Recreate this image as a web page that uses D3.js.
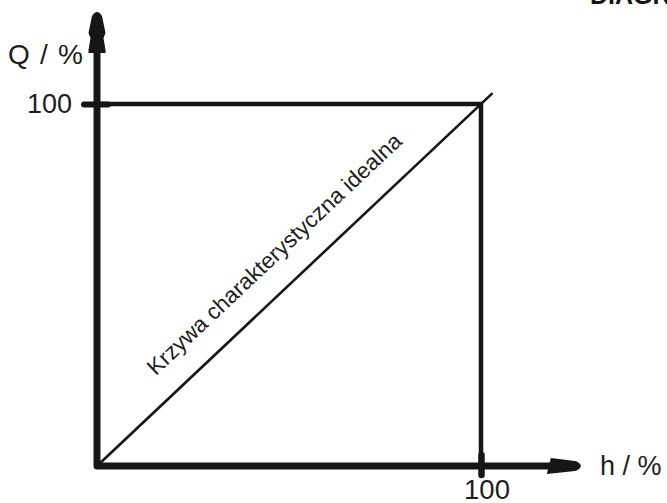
<!DOCTYPE html>
<html>
<head>
<meta charset="utf-8">
<script src="https://cdn.jsdelivr.net/npm/d3@7"></script>
<style>
  html, body { margin: 0; padding: 0; background: #fff; }
  svg { display: block; font-family: "Liberation Sans", Arial, sans-serif; }
</style>
</head>
<body>
<svg id="chart" width="667" height="503"></svg>
<script>
// ---- data ----
const xDomain = [0, 100];           // h / %
const yDomain = [0, 100];           // Q / %
const axisMax = 126;                // axes run a bit past 100 to the arrowheads
const xTicks = [100];
const yTicks = [100];
const idealCurveH = [0, 103];       // ideal characteristic (h values)
const idealCurveQ = [0, 103];       // ideal characteristic (Q values)
const squareH = [0, 100, 100];      // frame at 100 %
const squareQ = [100, 100, 0];
const xAxisLabel = "h / %";
const yAxisLabel = "Q / %";
const curveLabel = "Krzywa charakterystyczna idealna";
const titleText = "DIAGRAM";

// ---- drawing ----
const ink = "#161616";
const svg = d3.select("#chart");
const x = d3.scaleLinear().domain(xDomain).range([97, 481]);
const y = d3.scaleLinear().domain(yDomain).range([466, 104]);

// cut-off title at top right
svg.append("text")
  .attr("x", 590).attr("y", 4)
  .attr("font-size", 25).attr("font-weight", "bold")
  .attr("fill", ink)
  .text(titleText);

// square frame at 100 %
const frame = squareH.map((h, i) => [x(h), y(squareQ[i])]);
svg.append("path")
  .attr("d", d3.line()(frame))
  .attr("fill", "none").attr("stroke", ink)
  .attr("stroke-width", 4.5).attr("stroke-linejoin", "miter");

// ideal curve (diagonal)
const ideal = idealCurveH.map((h, i) => [x(h), y(idealCurveQ[i])]);
svg.append("path")
  .attr("d", d3.line()(ideal))
  .attr("fill", "none").attr("stroke", ink)
  .attr("stroke-width", 2.6);

// axes lines (L shape)
const yTipY = y(axisMax), xTipX = x(axisMax);
svg.append("path")
  .attr("d", d3.line()([[x(0), yTipY + 40], [x(0), y(0)], [xTipX - 30, y(0)]]))
  .attr("fill", "none").attr("stroke", ink)
  .attr("stroke-width", 7).attr("stroke-linejoin", "round");

// y arrowhead (pointing up)
svg.append("path")
  .attr("transform", `translate(${x(0)},${yTipY})`)
  .attr("d", "M-5,6 Q0,-2 5,6 L8.5,23 L6.5,28 L8.5,40 L8.5,43 L-8.5,43 L-8.5,40 L-6.5,28 L-8.5,23 Z")
  .attr("fill", ink);

// x arrowhead (pointing right)
svg.append("path")
  .attr("transform", `translate(${xTipX},${y(0)})`)
  .attr("d", "M0,0 C0,-2 -3,-4.5 -6,-5 L-30,-8 L-34,8 L-6,5 C-3,4.5 0,2 0,0 Z")
  .attr("fill", ink);

// y axis ticks + labels
const yAxisG = svg.append("g")
  .attr("transform", `translate(${x(0)},0)`)
  .call(d3.axisLeft(y).tickValues(yTicks).tickSize(13).tickPadding(12).tickFormat(d3.format("d")));
yAxisG.select(".domain").remove();
yAxisG.selectAll(".tick line")
  .attr("x1", -13).attr("x2", 11)
  .attr("stroke", ink).attr("stroke-width", 6).attr("stroke-linecap", "round");
yAxisG.selectAll(".tick text")
  .attr("x", -25)
  .attr("font-size", 27).attr("font-family", "Liberation Sans, Arial, sans-serif")
  .attr("fill", "#1e1e1e");

// x axis ticks + labels
const xAxisG = svg.append("g")
  .attr("transform", `translate(0,${y(0)})`)
  .call(d3.axisBottom(x).tickValues(xTicks).tickSize(9).tickPadding(4).tickFormat(d3.format("d")));
xAxisG.select(".domain").remove();
xAxisG.selectAll(".tick line")
  .attr("y1", -11).attr("y2", 9)
  .attr("stroke", ink).attr("stroke-width", 6.5).attr("stroke-linecap", "round");
xAxisG.selectAll(".tick text")
  .attr("dx", 5.5)
  .attr("font-size", 27.5).attr("font-family", "Liberation Sans, Arial, sans-serif")
  .attr("fill", "#1e1e1e");

// axis titles
svg.append("text")
  .attr("x", 8).attr("y", 64)
  .attr("font-size", 28).attr("fill", "#1e1e1e")
  .attr("textLength", 75).attr("lengthAdjust", "spacing")
  .text(yAxisLabel);
svg.append("text")
  .attr("x", 600).attr("y", 475)
  .attr("font-size", 27).attr("fill", "#1e1e1e")
  .text(xAxisLabel);

// label along the diagonal
const p0 = ideal[0], p1 = ideal[1];
const ang = Math.atan2(p1[1] - p0[1], p1[0] - p0[0]) * 180 / Math.PI;
const lx = x(52), ly = y(52);
svg.append("text")
  .attr("transform", `translate(${lx},${ly}) rotate(${ang}) translate(0,-25)`)
  .attr("text-anchor", "middle")
  .attr("font-size", 22.5).attr("fill", "#1e1e1e")
  .text(curveLabel);
</script>
</body>
</html>
